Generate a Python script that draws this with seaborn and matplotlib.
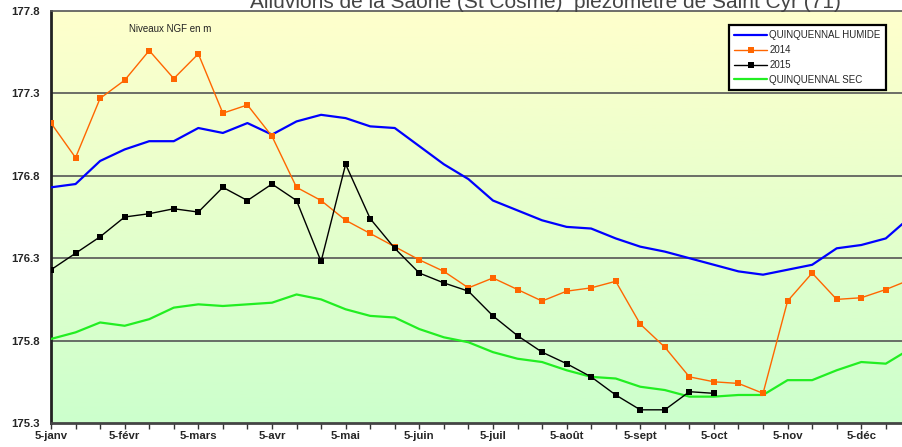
import numpy as np
import pandas as pd
import matplotlib
matplotlib.use("Agg")
import matplotlib.pyplot as plt
import seaborn as sns
from matplotlib.colors import LinearSegmentedColormap

# ─── Data (3 readings per month: 5, 15, 25) ───────────────────────────────────
MONTH_LABELS = ["5-janv", "5-févr", "5-mars", "5-avr", "5-mai", "5-juin",
                "5-juil", "5-août", "5-sept", "5-oct", "5-nov", "5-déc"]

humide = [176.73, 176.75, 176.89, 176.96, 177.01, 177.01, 177.09, 177.06, 177.12,
          177.05, 177.13, 177.17, 177.15, 177.10, 177.09, 176.98, 176.87, 176.78,
          176.65, 176.59, 176.53, 176.49, 176.48, 176.42, 176.37, 176.34, 176.30,
          176.26, 176.22, 176.20, 176.23, 176.26, 176.36, 176.38, 176.42, 176.55]

y2014 = [177.12, 176.91, 177.27, 177.38, 177.56, 177.39, 177.54, 177.18, 177.23,
         177.04, 176.73, 176.65, 176.53, 176.45, 176.37, 176.29, 176.22, 176.12,
         176.18, 176.11, 176.04, 176.10, 176.12, 176.16, 175.90, 175.76, 175.58,
         175.55, 175.54, 175.48, 176.04, 176.21, 176.05, 176.06, 176.11, 176.17]

y2015 = [176.23, 176.33, 176.43, 176.55, 176.57, 176.60, 176.58, 176.73, 176.65,
         176.75, 176.65, 176.28, 176.87, 176.54, 176.36, 176.21, 176.15, 176.10,
         175.95, 175.83, 175.73, 175.66, 175.58, 175.47, 175.38, 175.38, 175.49,
         175.48]

sec = [175.81, 175.85, 175.91, 175.89, 175.93, 176.00, 176.02, 176.01, 176.02,
       176.03, 176.08, 176.05, 175.99, 175.95, 175.94, 175.87, 175.82, 175.79,
       175.73, 175.69, 175.67, 175.62, 175.58, 175.57, 175.52, 175.50, 175.46,
       175.46, 175.47, 175.47, 175.56, 175.56, 175.62, 175.67, 175.66, 175.75]

Y_TICKS = [175.3, 175.8, 176.3, 176.8, 177.3, 177.8]

# ─── Style ────────────────────────────────────────────────────────────────────
sns.set_theme(style="white")
plt.rcParams["font.family"] = ["Liberation Sans", "DejaVu Sans"]

fig = plt.figure(figsize=(9.02, 4.47), dpi=100)
ax = fig.add_axes([51 / 902, 24 / 447, 1 - 51 / 902, 412 / 447])

xmax = 34.66
ax.set_xlim(0, xmax)
ax.set_ylim(175.3, 177.8)

# background gradient (yellow top -> green bottom)
grad = LinearSegmentedColormap.from_list("bg", ["#CCFFCC", "#FFFFCC"])
ax.imshow(np.linspace(0, 1, 256).reshape(-1, 1), cmap=grad, aspect="auto",
          origin="lower", extent=[0, xmax, 175.3, 177.8], zorder=0)

for yv in Y_TICKS[1:-1]:
    ax.axhline(yv, color="#555555", linewidth=1.2, zorder=1)

idx = np.arange(len(humide))
sns.lineplot(x=idx, y=humide, ax=ax, color="#0000FF", linewidth=1.6,
             label="QUINQUENNAL HUMIDE", zorder=3)
sns.lineplot(x=np.arange(len(y2014)), y=y2014, ax=ax, color="#FF6600", linewidth=1.0,
             marker="s", markersize=4, markeredgewidth=0, label="2014", zorder=4)
sns.lineplot(x=np.arange(len(y2015)), y=y2015, ax=ax, color="black", linewidth=1.0,
             marker="s", markersize=4.3, markeredgewidth=0, label="2015", zorder=5)
sns.lineplot(x=idx, y=sec, ax=ax, color="#22EE22", linewidth=1.6,
             label="QUINQUENNAL SEC", zorder=3)

# axes and ticks
ax.set_xticks(np.arange(0, 35))
ax.set_xticklabels([MONTH_LABELS[i // 3] if i % 3 == 0 else "" for i in range(35)],
                   fontsize=8.2, fontweight="bold")
ax.set_yticks(Y_TICKS)
ax.set_yticklabels([f"{v:.1f}" for v in Y_TICKS], fontsize=8.2, fontweight="bold")
ax.tick_params(axis="x", direction="out", length=4, width=1, color="#333333",
               pad=2, bottom=True)
ax.tick_params(axis="y", length=0, pad=8)
ax.set_xlabel("")
ax.set_ylabel("")

ax.spines["left"].set_color("#222222")
ax.spines["left"].set_linewidth(2)
ax.spines["bottom"].set_color("#444444")
ax.spines["bottom"].set_linewidth(2)
ax.spines["top"].set_color("#555555")
ax.spines["top"].set_linewidth(1.2)
ax.spines["right"].set_visible(False)

leg = ax.legend(loc="upper right", bbox_to_anchor=(0.987, 0.978), fontsize=7,
                frameon=True, fancybox=False, handlelength=3.4, handletextpad=0.2,
                borderpad=0.55, labelspacing=0.5)
leg.get_frame().set_edgecolor("black")
leg.get_frame().set_linewidth(1.6)
leg.get_frame().set_facecolor("white")
leg.get_frame().set_alpha(1)

ax.text((129 - 51) / (902 - 51), 1 - (29 - 11) / 412,
        "Niveaux NGF en m", transform=ax.transAxes, fontsize=7,
        va="center", ha="left", color="#222222")

fig.text(0.605, 1 - 8 / 447, "Alluvions de la Saône (St Cosme)  piézomètre de Saint Cyr (71)",
         ha="center", va="baseline", fontsize=15, color="#444444")

fig.savefig("out.png", dpi=100)
